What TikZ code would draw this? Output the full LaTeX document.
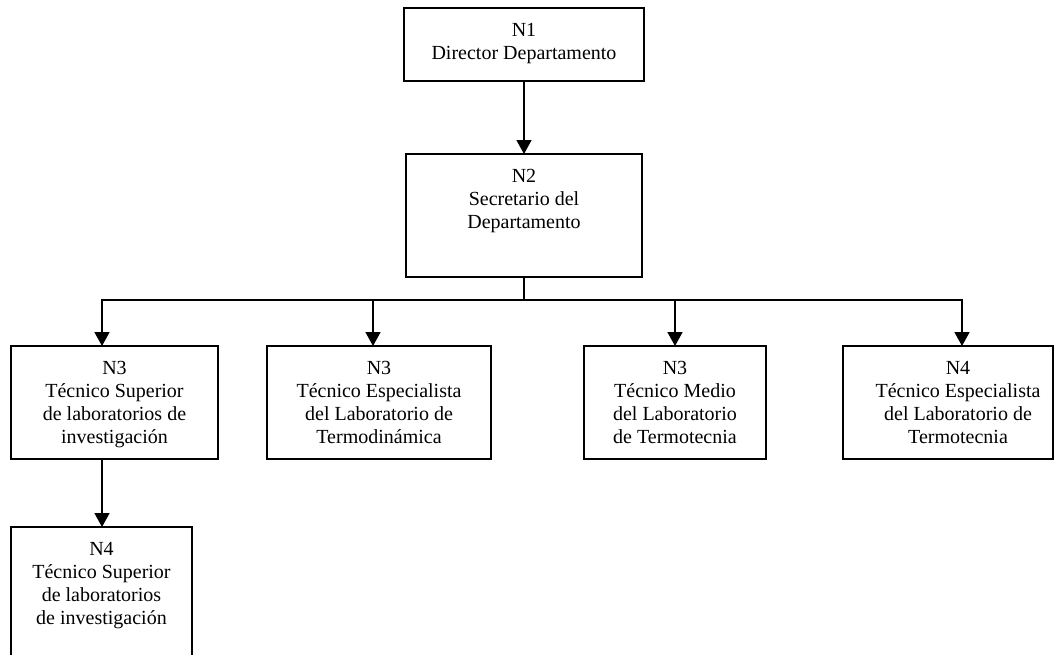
\documentclass[tikz,border=0pt]{standalone}
\usepackage{fontspec}
\setmainfont{Liberation Serif}
\usetikzlibrary{arrows.meta}

\tikzset{
  box/.style={draw=black, line width=1.6pt, rectangle, inner sep=0pt, outer sep=0pt},
  boxtext/.style={anchor=north, inner sep=0pt, align=center,
                  font=\fontsize{20}{23}\selectfont},
  link/.style={line width=1.6pt, draw=black},
  arrowlink/.style={link, -{Triangle[length=14pt,width=15pt]}}
}

\begin{document}
\begin{tikzpicture}[x=1pt,y=-1pt]
  \useasboundingbox (0,0) rectangle (1055,654);

  % level 1
  \node[box, minimum width=240pt, minimum height=73pt] (n1) at (524,44.5) {};
  \node[boxtext] (n1t) at (524,23.5) {N1\\Director Departamento};

  % level 2
  \node[box, minimum width=236pt, minimum height=123pt] (n2) at (524,215.5) {};
  \node[boxtext] (n2t) at (524,169.5) {N2\\Secretario del\\Departamento};

  % level 3 row
  \node[box, minimum width=207pt, minimum height=113pt] (n3a) at (114.5,402.5) {};
  \node[boxtext] (n3at) at (114.5,361.5) {N3\\Técnico Superior\\de laboratorios de\\investigación};

  \node[box, minimum width=224pt, minimum height=113pt] (n3b) at (379,402.5) {};
  \node[boxtext] (n3bt) at (379,361.5) {N3\\Técnico Especialista\\del Laboratorio de\\Termodinámica};

  \node[box, minimum width=182pt, minimum height=113pt] (n3c) at (675,402.5) {};
  \node[boxtext] (n3ct) at (675,361.5) {N3\\Técnico Medio\\del Laboratorio\\de Termotecnia};

  \node[box, minimum width=210pt, minimum height=113pt] (n3d) at (948,402.5) {};
  \node[boxtext] (n3dt) at (958,361.5) {N4\\Técnico Especialista\\del Laboratorio de\\Termotecnia};

  % level 4, running past the lower edge
  \node[box, minimum width=181pt, minimum height=140pt] (n4) at (101.5,597) {};
  \node[boxtext] (n4t) at (101.5,542.5) {N4\\Técnico Superior\\de laboratorios\\de investigación};

  % connectors
  \draw[arrowlink] (n1.south) -- (n2.north);

  \coordinate (ba) at (102,300);
  \coordinate (bb) at (373,300);
  \coordinate (bc) at (675,300);
  \coordinate (bd) at (962,300);

  \draw[link] (n2.south) -- (n2.south |- ba);
  \draw[link, line cap=rect] (ba) -- (bd);

  \draw[arrowlink] (ba) -- (ba |- n3a.north);
  \draw[arrowlink] (bb) -- (bb |- n3b.north);
  \draw[arrowlink] (bc) -- (bc |- n3c.north);
  \draw[arrowlink] (bd) -- (bd |- n3d.north);

  \draw[arrowlink] (n3a.south -| ba) -- (ba |- n4.north);
\end{tikzpicture}
\end{document}
